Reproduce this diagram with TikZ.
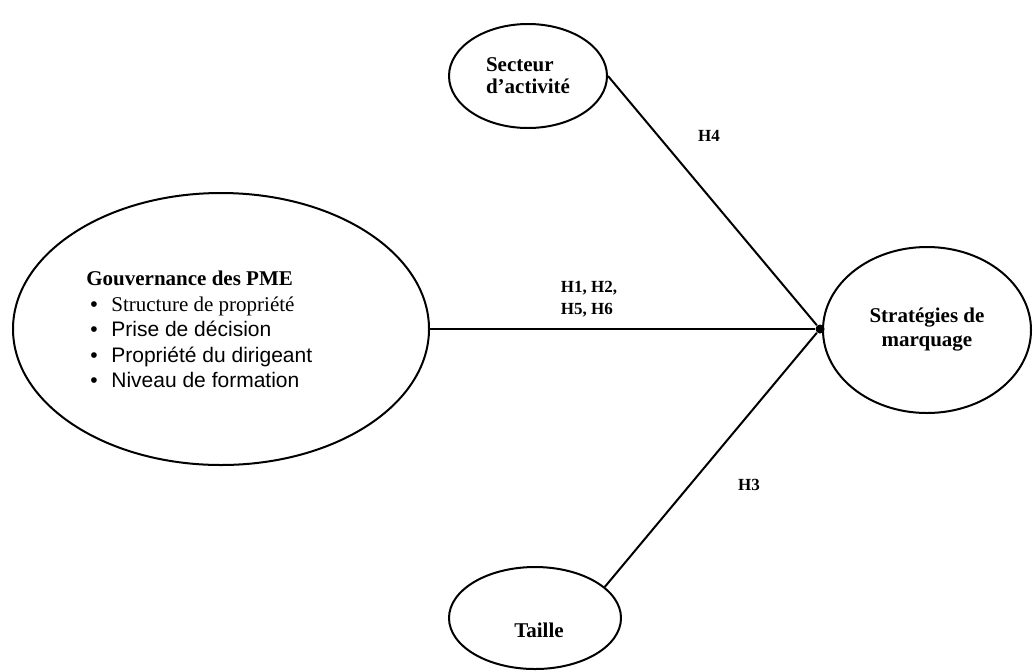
\documentclass[tikz,border=0pt]{standalone}
\usepackage{fontspec}
\setmainfont{Liberation Serif}
\newfontfamily\arial{Liberation Sans}
\usetikzlibrary{shapes.geometric,positioning}

\tikzset{
  bubble/.style={draw, ellipse, line width=1pt, inner sep=0pt},
  title/.style={font=\bfseries\fontsize{10.5}{11}\selectfont, align=left},
  hyp/.style={font=\bfseries\fontsize{8.5}{11}\selectfont, align=left},
  hub/.style={circle, fill, inner sep=0pt, minimum size=4.5pt},
  link/.style={line width=1pt}
}

\newcommand{\puce}{\hspace*{2pt}\makebox[10.5pt][l]{\arial\textbullet}}

\begin{document}
\begin{tikzpicture}[x=0.5pt, y=-0.5pt]
  \useasboundingbox (0,0) rectangle (1033,671);

  % the five variables
  \node[bubble, minimum width=208pt, minimum height=136pt] (gouv) at (221,329) {};
  \node[anchor=north west, inner sep=0pt, align=left,
        font=\fontsize{10.5}{12.75}\selectfont] (gouvtxt) at (86,271)
    {{\bfseries Gouvernance des PME}\\
     \puce Structure de propriété\\
     \puce{\arial Prise de décision}\\
     \puce{\arial Propriété du dirigeant}\\
     \puce{\arial Niveau de formation}};
  \node[bubble, title, minimum width=79pt, minimum height=52pt] (secteur) at (528,76)
    {Secteur\\d’activité};
  \node[bubble, minimum width=86pt, minimum height=51pt] (taille) at (535,618) {};
  \node[title, inner sep=0pt] (tailletxt) at (539,630) {Taille};
  \node[bubble, title, align=center, minimum width=104pt, minimum height=83pt,
        font=\bfseries\fontsize{10.5}{12}\selectfont] (strat) at (927,330)
    {Stratégies de\\marquage};
  \node[hub] (jonction) at (820,329) {};

  % links
  \draw[link] (gouv.east) -- (jonction);
  \draw[link] (secteur.east) -- (jonction);
  \draw[link] (taille.24) -- (jonction);

  % hypotheses
  \node[hyp] (h4) at (709,136) {H4};
  \node[hyp] (h1256) at (589,299) {H1, H2,\\H5, H6};
  \node[hyp] (h3) at (749,485) {H3};
\end{tikzpicture}
\end{document}
